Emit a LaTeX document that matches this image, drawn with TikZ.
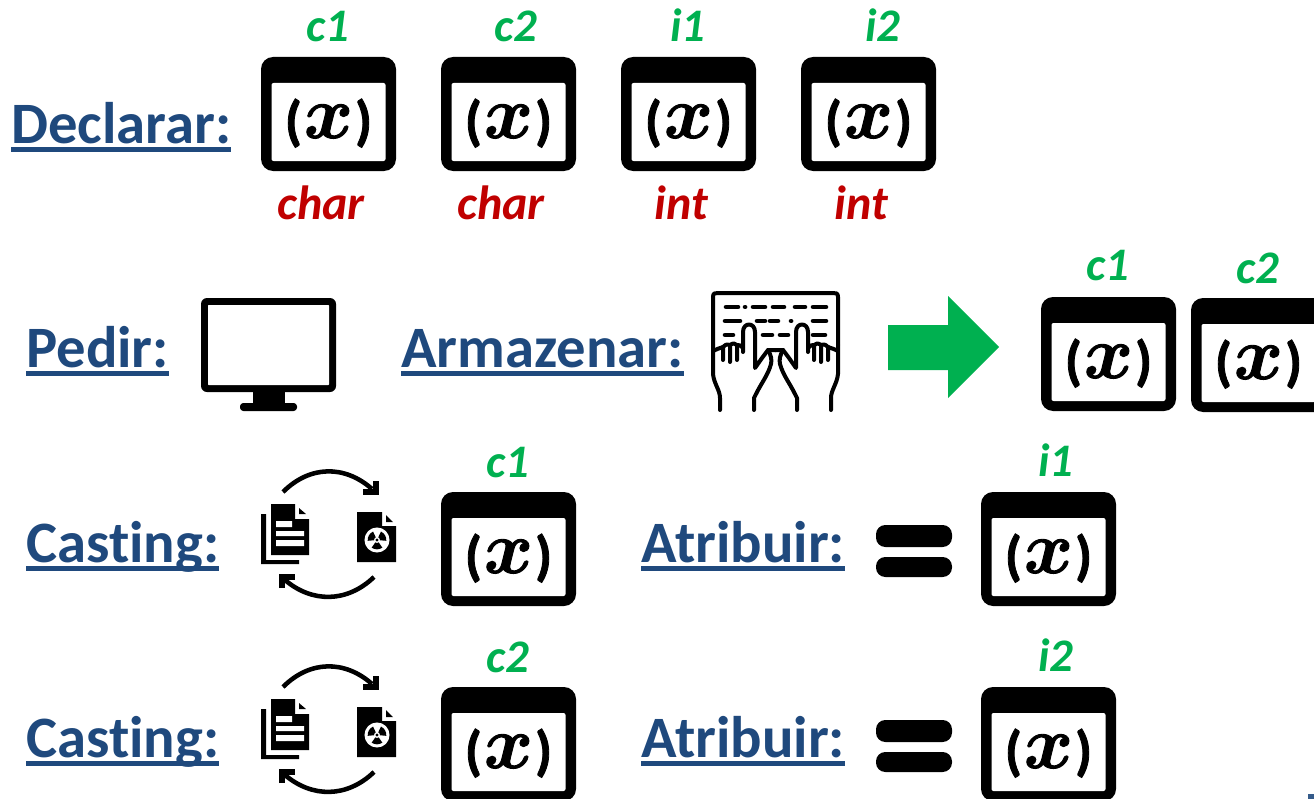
\documentclass[tikz,border=0pt]{standalone}
\usepackage{fontspec}
\setmainfont[Ligatures=NoCommon]{Carlito}
\newfontface\mxfont[FakeBold=1.2]{Latin Modern Math}
\newfontfamily\parfont[BoldFeatures={FakeBold=1.5}]{Carlito}
\definecolor{lblue}{HTML}{1F497D}
\definecolor{lgreen}{HTML}{00B050}
\definecolor{lred}{HTML}{C00000}
\newcommand\ulbl[1]{\setbox0\hbox{#1}\rlap{\rule[-7pt]{\wd0}{3.9pt}}\box0}
\tikzset{
 x=0.75pt,y=-0.75pt,
 headlbl/.style={anchor=base west,inner sep=0pt,text=lblue,font=\fontsize{44}{50}\selectfont\bfseries},
 vname/.style={anchor=base,inner sep=0pt,text=lgreen,font=\fontsize{35}{40}\selectfont\bfseries\itshape},
 vtype/.style={anchor=base,inner sep=0pt,text=lred,font=\fontsize{36}{40}\selectfont\bfseries\itshape},
 kb/.style={line width=3pt,line cap=round,line join=round},
}
\newcommand\varbox[3]{%
 \begin{scope}[shift={(#2,#3)}]
  \fill[black,rounded corners=9pt] (0,0) rectangle (135,114);
  \fill[white,rounded corners=1.5pt] (10.5,26) rectangle (124.5,104);
  \node[inner sep=0pt,anchor=base] (#1) at (67.5,81) {\fontsize{41}{44}\selectfont\parfont\bfseries\raisebox{-1pt}{(}\hspace{1.5pt}{\mxfont\fontsize{56}{60}\selectfont ^^^^^1d499}\hspace{1.5pt}\raisebox{-1pt}{)}};
 \end{scope}}
\newcommand\castic[1]{%
 \begin{scope}[shift={(0,#1)}]
  \draw[line width=3.4pt] (283,492) .. controls (310,465) and (345,465) .. (372,489);
  \draw[line width=3.8pt] (376,481) -- (376,492) -- (363,492);
  \draw[line width=3.4pt] (374,577) .. controls (347,603) and (312,603) .. (285,580);
  \draw[line width=3.8pt] (282,588) -- (282,577) -- (295,577);
  \fill (271,504) -- (295,504) -- (295,519) -- (309,519) -- (309,555) -- (271,555) -- cycle;
  \fill (299,508) -- (299,514) -- (306,514) -- cycle;
  \fill[white] (276,521) rectangle (292,527) (276,531) rectangle (304,536) (276,540) rectangle (304,546);
  \fill (261,514) -- (266,514) -- (266,560) -- (299,560) -- (299,564) -- (261,564) -- cycle;
  \fill (357,512) -- (382,512) -- (382,526) -- (396,526) -- (396,562) -- (357,562) -- cycle;
  \fill (386,515) -- (386,522) -- (393,522) -- cycle;
  \fill[white] (377,540) circle[radius=9.4pt];
  \fill (377,540) -- ++(-5:7pt) arc[start angle=-5,end angle=65,radius=7pt] -- cycle;
  \fill (377,540) -- ++(115:7pt) arc[start angle=115,end angle=185,radius=7pt] -- cycle;
  \fill (377,540) -- ++(235:7pt) arc[start angle=235,end angle=305,radius=7pt] -- cycle;
  \fill[white] (377,540) circle[radius=2.2pt];
  \fill (377,540) circle[radius=1.3pt];
 \end{scope}}
\newcommand\eqic[1]{%
 \begin{scope}[shift={(0,#1)}]
  \fill[rounded corners=7pt] (876,525) rectangle (952,547);
  \fill[rounded corners=7pt] (876,557) rectangle (952,577);
 \end{scope}}
\newcommand\handic{%
  \draw[kb] (713,345) -- (713,374) .. controls (714,384) and (720,390) .. (720,398) -- (720,410);
  \draw[kb] (713,351) .. controls (717,349) and (720,348) .. (723,347) -- (723,360);
  \draw[kb] (723,347) .. controls (726,344) and (728,344) .. (730,345) -- (730,362);
  \draw[kb] (730,345) .. controls (733,343) and (735,343) .. (737,345) -- (737,360);
  \draw[kb] (737,345) .. controls (739,344) and (741,346) .. (743,348);
  \draw[kb] (743,352) -- (743,332) .. controls (743,322) and (755,322) .. (755,332) -- (755,368) -- (762,358) -- (768,350) -- (776,350);
  \draw[kb] (768,350) .. controls (771,355) and (772,360) .. (771,364) .. controls (768,375) and (762,382) .. (756,394) -- (754,398) -- (754,410);
}
\begin{document}
\begin{tikzpicture}
\useasboundingbox (0,0) rectangle (1314,799);
\clip (0,0) rectangle (1314,799);
% row 1
\node[headlbl] (declarar) at (11,143) {\ulbl{Declarar:}};
\varbox{xa}{261}{57}
\varbox{xb}{441}{57}
\varbox{xc}{621}{57}
\varbox{xd}{801}{57}
\node[vname] (na) at (328,42) {c1};
\node[vname] (nb) at (516,42) {c2};
\node[vname] (nc) at (688,42) {i1};
\node[vname] (nd) at (883,42) {i2};
\node[vtype] (ta) at (321,219) {char};
\node[vtype] (tb) at (501,219) {char};
\node[vtype] (tc) at (681,219) {int};
\node[vtype] (td) at (861,219) {int};
% row 2
\node[headlbl] (pedir) at (26,367) {\ulbl{Pedir:}};
\fill[rounded corners=4.5pt] (201,298) rectangle (336,392);
\fill[white,rounded corners=0.5pt] (208,305) rectangle (329,385);
\fill (253,390) rectangle (285,405);
\fill[rounded corners=2.5pt] (240,403) rectangle (297,411);
\node[headlbl] (armazenar) at (401,367) {\ulbl{Armazenar:}};
% keyboard
\draw[kb] (713,345) -- (713,297) .. controls (713,293) and (715,293) .. (718,293) -- (833,293) .. controls (836,293) and (838,293) .. (838,297) -- (838,345);
\foreach \xa/\xb/\yy in {726/738/307,745/745.1/307,753/765/307,773/784/307,795/805/307,813/826/307,
 725/740/321,757/765/321,770/778/321,791/791.1/321,813/826/321,
 725/733/335,763/772/335,780/788/335,813/825/335}{
 \draw[kb,line width=3.4pt] (\xa,\yy) -- (\xb,\yy);
}
\handic
\begin{scope}[shift={(1551,0)},xscale=-1]
\handic
\end{scope}
\fill[lgreen] (888,325) -- (948,325) -- (948,296) -- (999,347) -- (948,398) -- (948,370) -- (888,370) -- cycle;
\varbox{xe}{1041}{297}
\varbox{xf}{1191}{298}
\node[vname] (ne) at (1108,280) {c1};
\node[vname] (nf) at (1258,283) {c2};
% row 3
\node[headlbl] (cast1) at (26,562) {\ulbl{Casting:}};
\castic{0}
\varbox{xg}{441}{492}
\node[vname] (ng) at (508,477) {c1};
\node[headlbl] (atr1) at (641,562) {\ulbl{Atribuir:}};
\eqic{0}
\varbox{xh}{981}{492}
\node[vname] (nh) at (1056,476) {i1};
% row 4
\node[headlbl] (cast2) at (26,757) {\ulbl{Casting:}};
\castic{195}
\varbox{xi}{441}{687}
\node[vname] (ni) at (508,672) {c2};
\node[headlbl] (atr2) at (641,757) {\ulbl{Atribuir:}};
\eqic{195}
\varbox{xj}{981}{687}
\node[vname] (nj) at (1056,671) {i2};
\fill[lblue!90] (1308,794) rectangle (1314,799);
\end{tikzpicture}
\end{document}
